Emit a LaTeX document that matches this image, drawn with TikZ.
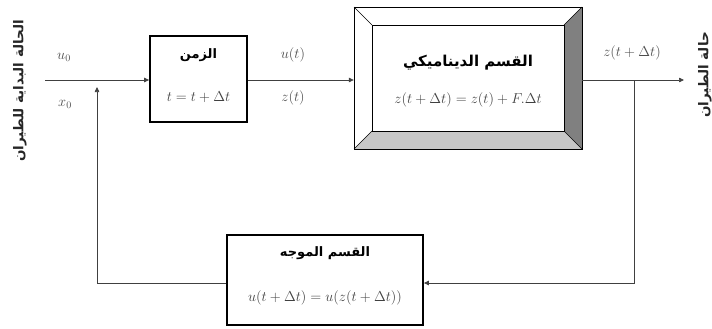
\documentclass[tikz,border=0pt]{standalone}
\usepackage{fontspec}
\usetikzlibrary{arrows.meta}
\newfontfamily\arabicfont[Script=Arabic]{DejaVu Sans}
\TeXXeTstate=1
\begin{document}
\begin{tikzpicture}[x=1pt,y=-1pt,
  conn/.style={line width=0.7pt,black!75},
  arr/.style={conn,-{Triangle[length=5pt,width=4.5pt]}},
  blk/.style={draw,line width=1.8pt,minimum width=97pt,minimum height=86pt},
  ttl/.style={font=\arabicfont\bfseries\fontsize{13}{15}\selectfont},
  eq/.style={text=black!75,font=\fontsize{15.5}{17}\selectfont},
  lbl/.style={text=black!70,font=\fontsize{14}{16}\selectfont},
  side/.style={rotate=90,font=\arabicfont\bfseries\fontsize{13.5}{15}\selectfont,text=black!85}]
\useasboundingbox (0,0) rectangle (712,329);
% side labels
\node[side,inner sep=0pt] (lin) at (20,91) {\beginR الحالة البداية للطيران\endR};
\node[side,inner sep=0pt] (lout) at (705,75) {\beginR حالة الطيران\endR};
% block 1
\node[blk] (b1) at (198.5,79) {};
\node[ttl] (b1t) at (198.5,55) {\beginR الزمن\endR};
\node[eq] (b1e) at (198.5,97) {$t=t+\Delta t$};
% block 2 (bevelled)
\coordinate (o1) at (354,7); \coordinate (o2) at (582,7);
\coordinate (o3) at (582,149); \coordinate (o4) at (354,149);
\coordinate (i1) at (372,25); \coordinate (i2) at (564,25);
\coordinate (i3) at (564,131); \coordinate (i4) at (372,131);
\fill[white] (o1) -- (o2) -- (i2) -- (i1) -- cycle;
\fill[white] (o1) -- (i1) -- (i4) -- (o4) -- cycle;
\fill[black!50] (o2) -- (o3) -- (i3) -- (i2) -- cycle;
\fill[black!22] (o4) -- (i4) -- (i3) -- (o3) -- cycle;
\draw[line width=0.9pt] (o1) -- (o2) -- (o3) -- (o4) -- cycle;
\draw[line width=0.9pt] (i1) -- (i2) -- (i3) -- (i4) -- cycle;
\draw[line width=0.6pt] (o1) -- (i1) (o2) -- (i2) (o3) -- (i3) (o4) -- (i4);
\node[minimum width=228pt,minimum height=142pt,inner sep=0pt] (b2) at (468,78) {};
\node[ttl,font=\arabicfont\bfseries\fontsize{15}{17}\selectfont] (b2t) at (468,63) {\beginR القسم الديناميكي\endR};
\node[eq] (b2e) at (468,100) {$z(t+\Delta t)=z(t)+F.\Delta t$};
% block 3
\node[blk,minimum width=196pt,minimum height=90pt] (b3) at (325,280) {};
\node[ttl] (b3t) at (325,253) {\beginR القسم الموجه\endR};
\node[eq] (b3e) at (325,298) {$u(t+\Delta t)=u(z(t+\Delta t))$};
% connectors
\coordinate (in) at (45,80);
\coordinate (out) at (684,80);
\coordinate (fbR) at (634,80);
\coordinate (fbRd) at (634,283);
\coordinate (fbL) at (97,283);
\coordinate (fbLu) at (97,87);
\draw[arr] (in) -- (b1.west |- in);
\draw[arr] (b1.east |- in) -- (b2.west |- in);
\draw[arr] (b2.east |- in) -- (out);
\draw[arr] (fbR) -- (fbRd) -- (b3.east |- fbRd);
\draw[arr] (b3.west |- fbL) -- (fbL) -- (fbLu);
% labels
\node[lbl] (u0) at (64,57) {$u_0$};
\node[lbl] (x0) at (65,104) {$x_0$};
\node[lbl] (ut) at (293,55) {$u(t)$};
\node[lbl] (zt) at (293,98) {$z(t)$};
\node[lbl] (zdt) at (632,53) {$z(t+\Delta t)$};
\end{tikzpicture}
\end{document}
